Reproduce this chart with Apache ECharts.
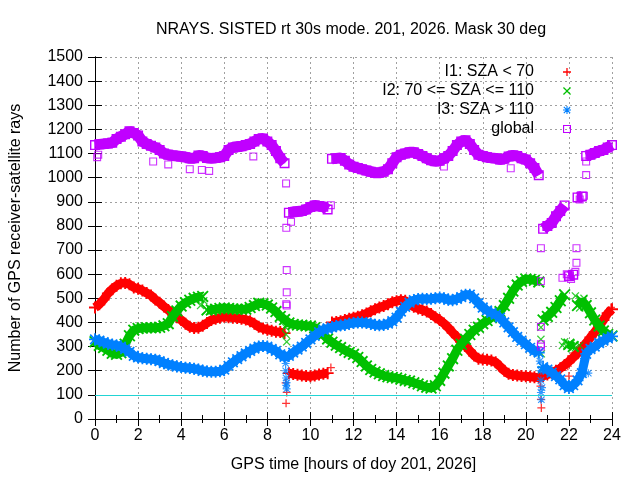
<!DOCTYPE html>
<html>
<head>
<meta charset="utf-8">
<title>NRAYS</title>
<script src="https://cdn.jsdelivr.net/npm/echarts@6/dist/echarts.min.js"></script>
<style>html,body{margin:0;padding:0;background:#fff;}</style>
</head>
<body>
<div id="main" style="width:640px;height:480px;"></div>
<script type="text/javascript">
// values read every 0.2 h, from 0 to 24 h
var step = 0.2;

var i1 = [462,475,495,520,538,552,562,564,558,545,
          540,532,522,512,495,482,466,452,438,422,
          410,395,382,377,378,386,398,410,415,420,
          424,422,420,418,415,412,405,395,382,375,
          370,366,362,360,356,190,186,183,180,178,
          177,180,184,187,190,400,402,405,410,415,
          420,424,430,437,446,455,462,468,476,484,
          488,492,490,478,465,458,452,445,435,422,
          410,396,378,358,340,320,303,283,263,250,
          247,245,242,235,218,200,187,182,180,178,
          177,175,173,172,178,184,192,200,210,224,
          238,255,272,294,315,338,360,385,410,438,
          455];
var i2 = [320,305,296,285,272,268,275,310,345,368,
          375,377,378,378,378,380,386,395,425,448,
          468,482,492,500,505,508,452,452,455,458,
          460,458,456,455,455,455,462,470,480,478,
          472,460,445,425,412,398,392,390,388,386,
          385,378,368,350,332,318,306,296,285,276,
          268,255,238,220,205,195,187,180,175,172,
          170,165,160,157,150,145,138,132,128,138,
          160,190,220,250,285,310,330,350,368,380,
          395,408,420,432,445,470,500,530,555,570,
          580,578,575,568,410,425,442,462,490,515,
          310,300,470,490,470,440,410,385,365,350,
          344];
var i3 = [330,325,318,312,308,305,300,290,278,262,
          255,252,250,248,246,240,232,226,222,218,
          215,212,211,208,205,200,197,196,196,198,
          205,220,235,248,260,272,282,292,300,302,
          300,290,282,268,258,262,275,288,300,315,
          330,345,360,370,375,380,385,388,390,395,
          398,400,400,398,395,390,388,390,395,405,
          420,445,465,482,492,497,498,497,498,500,
          503,500,494,492,498,505,515,515,500,480,
          462,450,440,432,420,400,380,360,340,325,
          310,295,282,275,215,205,192,178,164,140,
          128,140,160,190,270,290,300,315,325,335,
          342];
var glob = [1135,1138,1140,1142,1145,1160,1170,1180,1192,1185,
            1175,1150,1140,1132,1125,1115,1100,1095,1092,1090,
            1088,1085,1080,1080,1092,1090,1082,1080,1082,1085,
            1090,1115,1125,1128,1130,1135,1140,1150,1160,1162,
            1150,1135,1110,1080,1060,855,858,860,862,868,
            878,885,882,880,868,1078,1080,1082,1070,1055,
            1045,1040,1035,1030,1025,1020,1020,1025,1035,1060,
            1085,1095,1100,1105,1105,1098,1090,1080,1072,1068,
            1070,1080,1090,1110,1135,1150,1155,1140,1115,1095,
            1090,1085,1082,1080,1075,1078,1088,1092,1090,1080,
            1075,1060,1040,1010,788,800,812,840,862,885,
            592,598,918,922,1090,1095,1102,1110,1115,1125,
            1135];

// hours where a run starts afresh (no band drawn across the jump)
var i1Breaks = [9.0, 11.0];
var i2Breaks = [5.2, 20.8, 22.0, 22.4];
var i3Breaks = [20.8];
var globBreaks = [9.0, 11.0, 20.8, 22.0, 22.4, 22.8];

// scattered single samples [hour, rays]
var i1Extra = [[8.85,150],[8.9,110],[8.87,65],[10.95,213],[20.68,136],[20.7,81],[20.72,46],
               [21.95,219],[22.0,178],[22.1,261],[23.95,462]];
var i2Extra = [[8.85,380],[8.87,350],[8.9,320],[20.7,380],[20.7,330],[20.72,270],[20.75,205],
               [21.7,305],[21.8,320],[21.9,300],[22.1,312],[22.3,295],[22.5,305],
               [22.3,510],[22.5,460],[22.7,500],[4.9,470],[5.05,490]];
var i3Extra = [[8.85,230],[8.85,200],[8.87,170],[8.87,140],[8.9,125],[8.9,150],
               [20.65,240],[20.7,200],[20.7,160],[20.7,110],[20.72,80],[20.75,130],
               [22.7,250],[22.9,190]];
var globExtra = [[0.1,1085],[0.15,1095],[2.7,1067],[3.4,1055],[4.4,1035],[4.96,1032],[5.3,1028],
                 [7.35,1088],[8.87,976],[8.88,792],[8.9,617],[8.9,525],[8.88,476],[8.9,470],
                 [9.1,817],[10.95,886],[16.2,1046],[19.3,1039],[20.7,708],[20.7,571],[20.7,382],
                 [20.7,310],[20.7,300],[21.7,585],[21.9,600],[22.1,580],[22.3,610],[22.35,708],
                 [22.35,647],[22.5,910],[22.7,925],[22.8,1067],[22.8,1011]];

var names = ['I1: SZA < 70', 'I2: 70 <= SZA <= 110', 'I3: SZA > 110', 'global'];
var colors = ['#ff0000', '#00c000', '#0080ff', '#c000ff'];

var plusPath = 'path://M4.2,0H5.8V4.2H10V5.8H5.8V10H4.2V5.8H0V4.2H4.2Z';
var crossPath = 'path://M0,1.1L1.1,0L5,3.9L8.9,0L10,1.1L6.1,5L10,8.9L8.9,10L5,6.1L1.1,10L0,8.9L3.9,5Z';
var starPath = 'path://M4.3,0H5.7V4.3H10V5.7H5.7V10H4.3V5.7H0V4.3H4.3Z' +
               'M0.5,1.5L1.5,0.5L5,4L8.5,0.5L9.5,1.5L6,5L9.5,8.5L8.5,9.5L5,6L1.5,9.5L0.5,8.5L4,5Z';
var boxPath = 'path://M0,0H10V10H0ZM1.4,1.4V8.6H8.6V1.4Z';
var symbols = [plusPath, crossPath, starPath, boxPath];
var bandWidth = [9, 9, 9, 11];
var markSize = [12, 12, 12, 10];

var FONT = 'Liberation Sans';

function build(vals, breaks) {
    var out = [];
    for (var i = 0; i < vals.length; i++) {
        var h = Math.round(i * step * 10) / 10;
        if (breaks.indexOf(h) >= 0) out.push([h - 0.1, '-']);
        out.push([h, vals[i]]);
    }
    return out;
}

var mains = [build(i1, i1Breaks), build(i2, i2Breaks), build(i3, i3Breaks), build(glob, globBreaks)];
var extras = [i1Extra, i2Extra, i3Extra, globExtra];

var series = [];
for (var k = 0; k < 4; k++) {
    series.push({
        name: names[k],
        type: 'line',
        data: mains[k],
        symbol: symbols[k],
        symbolSize: markSize[k],
        showSymbol: true,
        showAllSymbol: true,
        connectNulls: false,
        lineStyle: {color: colors[k], width: bandWidth[k]},
        itemStyle: {color: colors[k]},
        silent: true,
        z: 2 + k
    });
    series.push({
        name: names[k],
        type: 'scatter',
        data: extras[k],
        symbol: symbols[k],
        symbolSize: 8,
        itemStyle: {color: colors[k]},
        silent: true,
        z: 2 + k
    });
}
// reference level at 100 rays
series[0].markLine = {
    silent: true,
    symbol: ['none', 'none'],
    label: {show: false},
    lineStyle: {color: '#22d4d4', type: 'solid', width: 1},
    data: [{yAxis: 100}]
};

var tickStyle = {inside: true, length: 7, lineStyle: {color: '#000'}};
var minorStyle = {show: true, splitNumber: 2, length: 4, lineStyle: {color: '#000'}};
var gridLine = {show: true, lineStyle: {color: '#a0a0a0', type: [2, 3], width: 1}};

var option = {
    animation: false,
    backgroundColor: '#fff',
    title: {
        text: 'NRAYS. SISTED rt 30s mode. 201, 2026. Mask 30 deg',
        left: 346,
        top: 17,
        textAlign: 'center',
        textStyle: {fontFamily: FONT, fontSize: 16, fontWeight: 'normal', color: '#000'}
    },
    grid: {left: 95, right: 28, top: 57, bottom: 61},
    legend: {
        orient: 'vertical',
        right: 64,
        top: 59,
        align: 'right',
        itemWidth: 8,
        itemHeight: 8,
        itemGap: 3,
        data: [
            {name: names[0], icon: plusPath},
            {name: names[1], icon: crossPath},
            {name: names[2], icon: starPath},
            {name: names[3], icon: boxPath}
        ],
        formatter: function (n) { return '{t|' + n + '}'; },
        textStyle: {
            fontFamily: FONT, fontSize: 16, color: '#000',
            rich: {t: {width: 175, align: 'right', fontFamily: FONT, fontSize: 16, lineHeight: 16, padding: [0, 24, 0, 0]}}
        }
    },
    xAxis: [{
        type: 'value', min: 0, max: 24, interval: 2,
        name: 'GPS time [hours of doy 201, 2026]',
        nameLocation: 'middle', nameGap: 38,
        nameTextStyle: {fontFamily: FONT, fontSize: 16, color: '#000'},
        axisLine: {lineStyle: {color: '#000'}},
        axisTick: tickStyle,
        minorTick: minorStyle,
        splitLine: gridLine,
        axisLabel: {fontFamily: FONT, fontSize: 16, color: '#000', margin: 9}
    }, {
        type: 'value', min: 0, max: 24, interval: 2, position: 'top',
        axisLine: {show: true, lineStyle: {color: '#000'}},
        axisTick: tickStyle,
        minorTick: minorStyle,
        splitLine: {show: false},
        axisLabel: {show: false}
    }],
    yAxis: [{
        type: 'value', min: 0, max: 1500, interval: 100,
        name: 'Number of GPS receiver-satellite rays',
        nameLocation: 'middle', nameGap: 71, nameRotate: 90,
        nameTextStyle: {fontFamily: FONT, fontSize: 16, color: '#000'},
        axisLine: {show: true, lineStyle: {color: '#000'}},
        axisTick: tickStyle,
        splitLine: gridLine,
        axisLabel: {
            fontFamily: FONT, fontSize: 16, color: '#000', margin: 12,
            formatter: function (v) { return String(v); }
        }
    }, {
        type: 'value', min: 0, max: 1500, interval: 100, position: 'right',
        axisLine: {show: true, lineStyle: {color: '#000'}},
        axisTick: tickStyle,
        splitLine: {show: false},
        axisLabel: {show: false}
    }],
    series: series
};

var myChart = echarts.init(document.getElementById('main'));
myChart.setOption(option);
</script>
</body>
</html>
